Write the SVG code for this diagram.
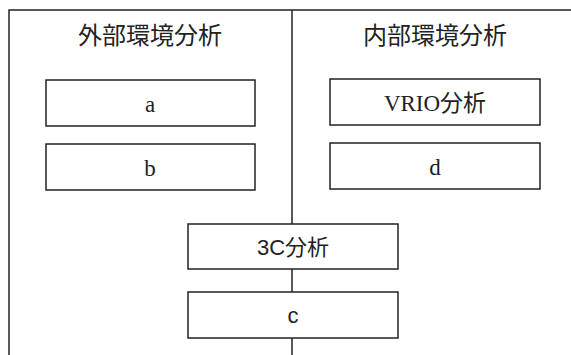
<svg xmlns="http://www.w3.org/2000/svg" width="571" height="355" viewBox="0 0 571 355">
<style>
.box{fill:#fff;stroke:#222;stroke-width:1.5}
.ln{stroke:#222;stroke-width:1.5;fill:none}
.t{font-family:"Liberation Serif","Noto Sans CJK JP",serif;font-size:23px;fill:#222;text-anchor:middle}
.h{font-family:"Noto Sans CJK JP",sans-serif;font-size:24px;fill:#222;text-anchor:middle}
.s{font-family:"Liberation Sans","Noto Sans CJK JP",sans-serif;font-size:22px;fill:#222;text-anchor:middle}
</style>
<rect width="571" height="355" fill="#fff"/>
<g id="frame">
<path class="ln" d="M9,355 V10 H571"/>
</g>
<g id="connectors">
<path class="ln" d="M292,10 V355"/>
</g>
<g id="title-external"><text class="h" x="150" y="44">外部環境分析</text></g>
<g id="title-internal"><text class="h" x="435" y="44">内部環境分析</text></g>
<g id="node-a"><rect class="box" x="46" y="80" width="209" height="46"/><text class="t" x="150" y="112">a</text></g>
<g id="node-b"><rect class="box" x="46" y="144" width="209" height="46"/><text class="t" x="150" y="176">b</text></g>
<g id="node-vrio"><rect class="box" x="330" y="79" width="210" height="46"/><text class="t" x="435" y="111">VRIO分析</text></g>
<g id="node-d"><rect class="box" x="330" y="143" width="210" height="46"/><text class="t" x="435" y="175">d</text></g>
<g id="node-3c"><rect class="box" x="188" y="224" width="210" height="45"/><text class="s" x="293" y="255">3C分析</text></g>
<g id="node-c"><rect class="box" x="188" y="292" width="210" height="46"/><text class="s" x="293" y="323">c</text></g>
</svg>
